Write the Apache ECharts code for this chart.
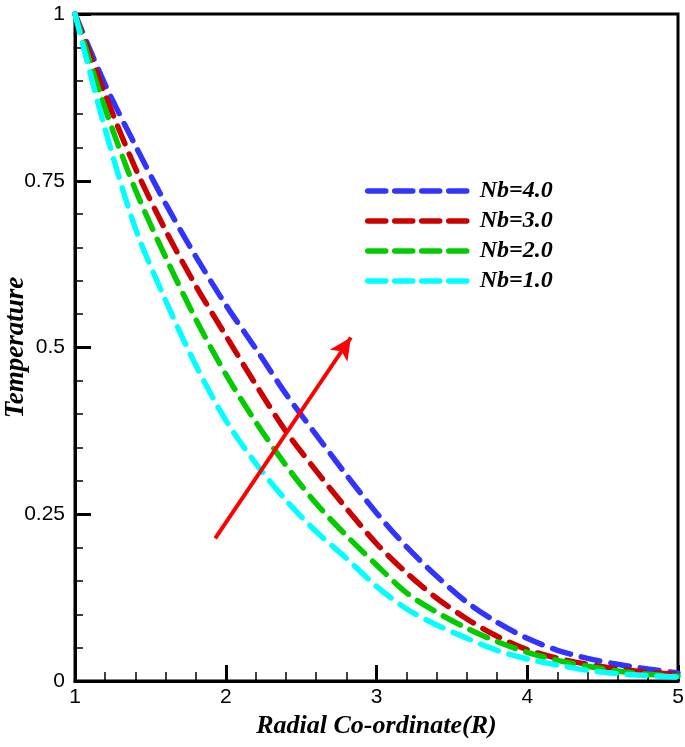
<!DOCTYPE html>
<html>
<head>
<meta charset="utf-8">
<script src="https://cdn.jsdelivr.net/npm/echarts@6/dist/echarts.min.js"></script>
<style>html,body{margin:0;padding:0;background:#fff;}#c{width:685px;height:747px;}</style>
</head>
<body>
<div id="c"></div>
<script>
var rValues = [1.0, 1.2, 1.4, 1.6, 1.8, 2.0, 2.2, 2.4, 2.6, 2.8, 3.0, 3.2, 3.4, 3.6, 3.8, 4.0, 4.2, 4.4, 4.6, 4.8, 5.0];
var nb4 = [1.0, 0.894, 0.803, 0.716, 0.637, 0.564, 0.498, 0.430, 0.369, 0.309, 0.252, 0.201, 0.157, 0.118, 0.088, 0.064, 0.046, 0.034, 0.025, 0.018, 0.012];
var nb3 = [1.0, 0.879, 0.769, 0.676, 0.593, 0.518, 0.444, 0.374, 0.315, 0.259, 0.206, 0.162, 0.124, 0.093, 0.067, 0.047, 0.034, 0.025, 0.018, 0.013, 0.010];
var nb2 = [1.0, 0.858, 0.737, 0.636, 0.543, 0.460, 0.388, 0.323, 0.266, 0.218, 0.174, 0.132, 0.103, 0.079, 0.059, 0.043, 0.031, 0.022, 0.015, 0.010, 0.007];
var nb1 = [1.0, 0.827, 0.679, 0.571, 0.474, 0.391, 0.326, 0.271, 0.224, 0.184, 0.142, 0.108, 0.084, 0.064, 0.046, 0.033, 0.024, 0.016, 0.011, 0.008, 0.006];
var seriesNames = ['Nb=4.0', 'Nb=3.0', 'Nb=2.0', 'Nb=1.0'];
var seriesColors = ['#3333ff', '#cc0000', '#00cc00', '#00ffff'];
var arrowStart = [1.93, 0.214];
var arrowEnd = [2.83, 0.515];

function pairs(ys) { return rValues.map(function (r, i) { return [r, ys[i]]; }); }
var allData = [nb4, nb3, nb2, nb1];

var serifFont = '"Liberation Serif", "Times New Roman", serif';
var sansFont = '"Liberation Sans", Arial, sans-serif';

var series = allData.map(function (d, i) {
  return {
    name: seriesNames[i],
    type: 'line',
    data: pairs(d),
    smooth: 0.3,
    showSymbol: false,
    symbol: 'none',
    color: seriesColors[i],
    lineStyle: { color: seriesColors[i], width: 5.5, type: [19, 11], cap: 'round' },
    z: 2 + i
  };
});
series[3].markLine = {
  silent: true,
  symbol: ['none', 'arrow'],
  symbolSize: [16, 22],
  label: { show: false },
  lineStyle: { color: '#ff0000', width: 4, type: 'solid' },
  itemStyle: { color: '#ff0000' },
  data: [[{ coord: arrowStart }, { coord: arrowEnd }]],
  z: 10
};

var chart = echarts.init(document.getElementById('c'));
chart.setOption({
  animation: false,
  backgroundColor: '#fff',
  grid: { left: 75, right: 7, top: 14, bottom: 66, containLabel: false, outerBoundsMode: 'none', show: true, borderColor: '#000', borderWidth: 3, backgroundColor: 'transparent' },
  legend: {
    data: seriesNames,
    orient: 'vertical',
    left: 360,
    top: 174,
    itemWidth: 104,
    itemHeight: 10,
    itemGap: 6,
    itemStyle: { opacity: 0 },
    lineStyle: { width: 5.5, type: [18, 9], cap: 'round' },
    textStyle: { fontFamily: serifFont, fontStyle: 'italic', fontWeight: 'bold', fontSize: 24, color: '#000', padding: [0, 0, 0, 3] }
  },
  xAxis: {
    type: 'value', min: 1, max: 5, interval: 1,
    name: 'Radial Co-ordinate(R)', nameLocation: 'middle', nameGap: 32,
    nameMoveOverlap: false,
    nameTextStyle: { fontFamily: serifFont, fontStyle: 'italic', fontWeight: 'bold', fontSize: 26, color: '#000' },
    axisLine: { lineStyle: { color: '#000', width: 3 } },
    axisTick: { inside: true, length: 16, lineStyle: { color: '#000', width: 3 } },
    minorTick: { show: true, splitNumber: 5, length: 9, lineStyle: { color: '#000', width: 1.5 } },
    axisLabel: { fontFamily: sansFont, fontSize: 21, color: '#000', margin: 6 },
    splitLine: { show: false }
  },
  yAxis: {
    type: 'value', min: 0, max: 1, interval: 0.25,
    name: 'Temperature', nameLocation: 'middle', nameGap: 45,
    nameMoveOverlap: false,
    nameTextStyle: { fontFamily: serifFont, fontStyle: 'italic', fontWeight: 'bold', fontSize: 27, color: '#000' },
    axisLine: { lineStyle: { color: '#000', width: 3 } },
    axisTick: { inside: true, length: 16, lineStyle: { color: '#000', width: 3 } },
    minorTick: { show: true, splitNumber: 5, length: 8, lineStyle: { color: '#000', width: 1.5 } },
    axisLabel: { fontFamily: sansFont, fontSize: 21, color: '#000', margin: 10 },
    splitLine: { show: false }
  },
  series: series
});
</script>
</body>
</html>
